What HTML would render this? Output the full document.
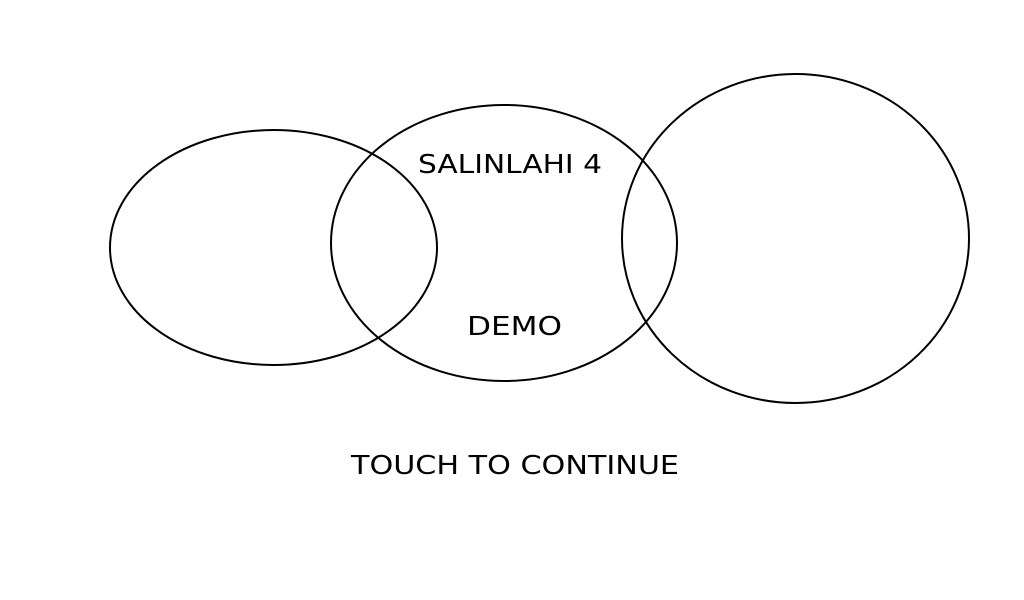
<!DOCTYPE html>
<html><head><style>html,body{margin:0;padding:0;background:#fff;}svg{display:block}</style></head>
<body>
<svg width="1024" height="600" viewBox="0 0 1024 600" xmlns="http://www.w3.org/2000/svg">
<rect width="1024" height="600" fill="#fff"/>
<g fill="none" stroke="#000" stroke-width="2">
<ellipse cx="273.5" cy="247.5" rx="163.5" ry="117.5"/>
<ellipse cx="504" cy="243" rx="173" ry="138"/>
<ellipse cx="795.5" cy="238.5" rx="173.5" ry="164.5"/>
</g>
<g font-family="'DejaVu Sans', 'Liberation Sans', sans-serif" font-size="26" fill="#000">
<text x="418" y="173" textLength="184" lengthAdjust="spacingAndGlyphs">SALINLAHI 4</text>
<text x="467" y="335" textLength="95" lengthAdjust="spacingAndGlyphs">DEMO</text>
<text x="351" y="474" textLength="328" lengthAdjust="spacingAndGlyphs">TOUCH TO CONTINUE</text>
</g>
</svg>
</body></html>
